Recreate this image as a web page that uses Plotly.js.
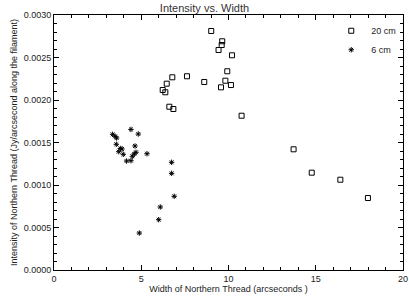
<!DOCTYPE html>
<html>
<head>
<meta charset="utf-8">
<script src="https://cdn.plot.ly/plotly-3.0.1.min.js"></script>
<style>html,body{margin:0;padding:0;background:#fff;}#chart{width:409px;height:297px;}</style>
</head>
<body>
<div id="chart"></div>
<script>
// 20 cm series (open squares)
var width20 = [9.01, 9.64, 9.61, 9.43, 10.20, 9.93, 6.78, 7.62, 8.61, 9.82, 9.57, 10.14, 6.46, 6.23, 6.38, 6.61, 6.84, 10.75, 13.73, 14.77, 16.41, 17.99];
var intensity20 = [0.002812, 0.002691, 0.002647, 0.002588, 0.002526, 0.002338, 0.002267, 0.002279, 0.002212, 0.002227, 0.002149, 0.002176, 0.002192, 0.002118, 0.002091, 0.001921, 0.001894, 0.001815, 0.001420, 0.001145, 0.001062, 0.000847];
// 6 cm series (asterisks)
var width6 = [3.36, 3.50, 3.59, 4.41, 4.83, 3.57, 3.90, 3.71, 3.97, 4.64, 4.70, 4.60, 4.49, 4.16, 4.41, 5.33, 6.09, 6.00, 4.89, 6.74, 6.74, 6.89, 3.80];
var intensity6 = [0.001596, 0.001573, 0.001553, 0.001654, 0.001600, 0.001479, 0.001424, 0.001392, 0.001361, 0.001459, 0.001385, 0.001365, 0.001338, 0.001282, 0.001286, 0.001368, 0.000741, 0.000592, 0.000435, 0.001267, 0.001137, 0.000867, 0.001430];
var seriesNames = ['20 cm', '6 cm'];
var xTickVals = [0, 5, 10, 15, 20];
var yTickVals = [0, 0.0005, 0.0010, 0.0015, 0.0020, 0.0025, 0.0030];

var font = {family: 'Liberation Sans, Arial, sans-serif', size: 9, color: '#222'};

var traces = [
  {x: width20, y: intensity20, name: seriesNames[0], type: 'scatter', mode: 'markers',
   marker: {symbol: 'square-open', size: 5, color: '#000', line: {width: 1, color: '#000'}}},
  {x: width6, y: intensity6, name: seriesNames[1], type: 'scatter', mode: 'markers',
   marker: {symbol: 'asterisk-open', size: 4.5, color: '#000', line: {width: 1, color: '#000'}}}
];

var axisCommon = {
  showline: true, linecolor: '#000', linewidth: 1, mirror: 'allticks',
  ticks: 'inside', ticklen: 5, tickcolor: '#000', tickwidth: 1,
  showgrid: false, zeroline: false, tickfont: font, automargin: false
};

var layout = {
  width: 409, height: 297,
  margin: {l: 54, r: 6, t: 15, b: 27},
  paper_bgcolor: '#fff', plot_bgcolor: '#fff',
  font: font,
  title: {text: 'Intensity vs. Width', font: {family: 'Liberation Sans, Arial, sans-serif', size: 11, color: '#333'}, x: 0.5, xanchor: 'center', y: 0.985, yanchor: 'top', automargin: false},
  xaxis: Object.assign({}, axisCommon, {
    range: [0, 20], tickvals: xTickVals, ticktext: xTickVals.map(String),
    minor: {dtick: 1, ticks: 'inside', ticklen: 3, tickcolor: '#000'},
    title: {text: 'Width of Northern Thread (arcseconds )', font: font, standoff: 2}
  }),
  yaxis: Object.assign({}, axisCommon, {
    range: [0, 0.003], tickvals: yTickVals, ticktext: yTickVals.map(function(v){return v.toFixed(4);}),
    minor: {dtick: 0.0001, ticks: 'inside', ticklen: 3, tickcolor: '#000'},
    title: {text: 'Intensity of Northern Thread (Jy/arcsecond along the filament)', font: font, standoff: 4}
  }),
  showlegend: true,
  legend: {x: 0.995, y: 0.995, xanchor: 'right', yanchor: 'top', bgcolor: 'rgba(0,0,0,0)', font: font, tracegroupgap: 0, itemwidth: 30}
};

Plotly.newPlot('chart', traces, layout, {staticPlot: true, displayModeBar: false});
</script>
</body>
</html>
